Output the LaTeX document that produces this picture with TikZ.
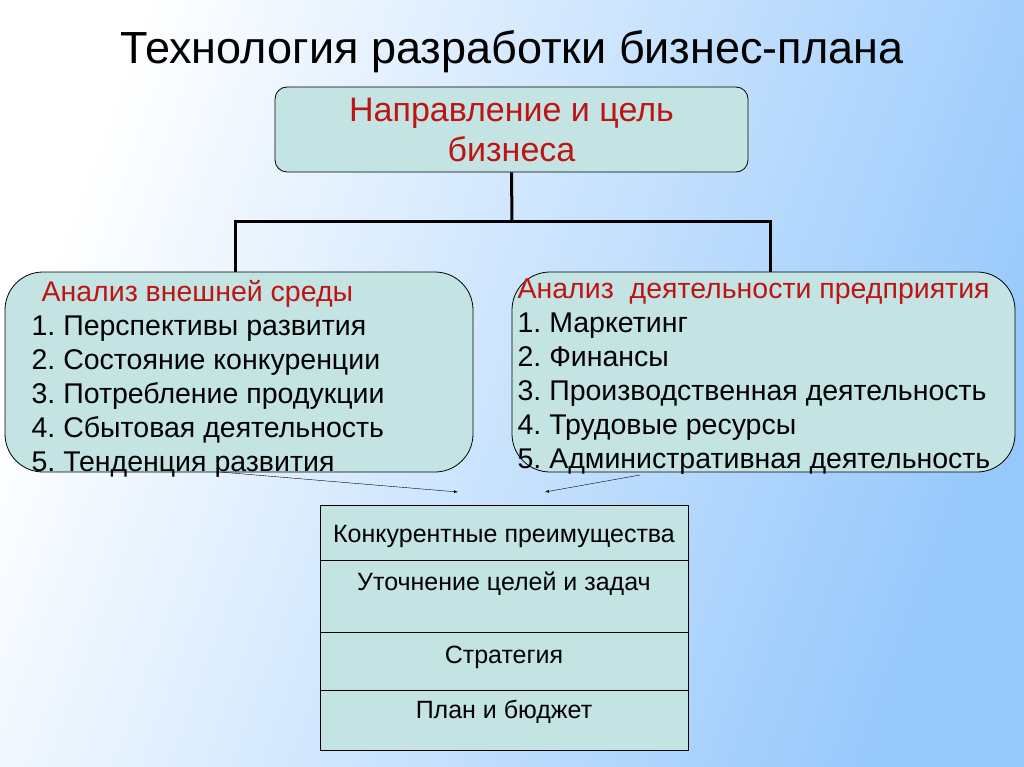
\documentclass[tikz,border=0pt]{standalone}
\usepackage{fontspec}
\setmainfont{Liberation Sans}
\usetikzlibrary{positioning}
\definecolor{boxfill}{RGB}{196,228,228}
\definecolor{headred}{RGB}{190,20,20}
\definecolor{bgblue}{RGB}{150,200,252}
\begin{document}
\begin{tikzpicture}[x=1pt,y=-1pt,>=latex,semithick]
 \tikzstyle{topbox}=[draw,thick,rounded corners=12pt,fill=boxfill,minimum width=473pt,minimum height=85pt,align=center,text=headred,font=\fontsize{34}{40}\selectfont]
 \tikzstyle{bigbox}=[draw,thick,rounded corners=38pt,fill=boxfill]
 \tikzstyle{list}=[anchor=north west,align=left,font=\fontsize{28.5}{34}\selectfont]
 \tikzstyle{row}=[draw,thin,fill=boxfill,minimum width=368pt,font=\fontsize{25}{28}\selectfont]
 \shade[left color=white,right color=bgblue,shading angle=70] (0,0) rectangle (1024,767);
 \useasboundingbox (0,0) rectangle (1024,767);
 \node (T) at (512,52) {\fontsize{45}{50}\selectfont Технология разработки бизнес-плана};
 \node[topbox] (goal) at (511.5,129.5) {Направление и цель\\бизнеса};
 \node[bigbox,minimum width=468pt,minimum height=200pt] (ext) at (239,372) {};
 \node[list] (extt) at (28,277)
   {\hspace*{10pt}\textcolor{headred}{Анализ внешней среды}\\
    1.\ Перспективы развития\\2.\ Состояние конкуренции\\3.\ Потребление продукции\\
    4.\ Сбытовая деятельность\\5.\ Тенденция развития};
 \node[bigbox,minimum width=503pt,minimum height=200pt] (int) at (763.5,372) {};
 \node[list] (intt) at (514,275)
   {\textcolor{headred}{Анализ\ \ деятельности предприятия}\\
    1.\ Маркетинг\\2.\ Финансы\\3.\ Производственная деятельность\\
    4.\ Трудовые ресурсы\\5.\ Административная деятельность};
 \coordinate (J) at (512,222);
 \draw[line width=3pt] (goal.south) -- (J);
 \draw[line width=3pt] (235,272) |- (770,222) -- (770,272);
 \node[row,minimum height=55pt,anchor=north] (r1) at (504,505) {\smash{\raisebox{-10pt}{Конкурентные преимущества}}};
 \node[row,minimum height=72pt,anchor=north] (r2) at (504,560) {\smash{\raisebox{6pt}{Уточнение целей и задач}}};
 \node[row,minimum height=58pt,anchor=north] (r3) at (504,632) {\smash{\raisebox{-2pt}{Стратегия}}};
 \node[row,minimum height=60pt,anchor=north] (r4) at (504,690) {\smash{\raisebox{2pt}{План и бюджет}}};
 \coordinate (a1) at (458,492);
 \coordinate (a2) at (545,492);
 \draw[->,thin] (220,472) -- (a1);
 \draw[->,thin] (640,475) -- (a2);
\end{tikzpicture}
\end{document}
